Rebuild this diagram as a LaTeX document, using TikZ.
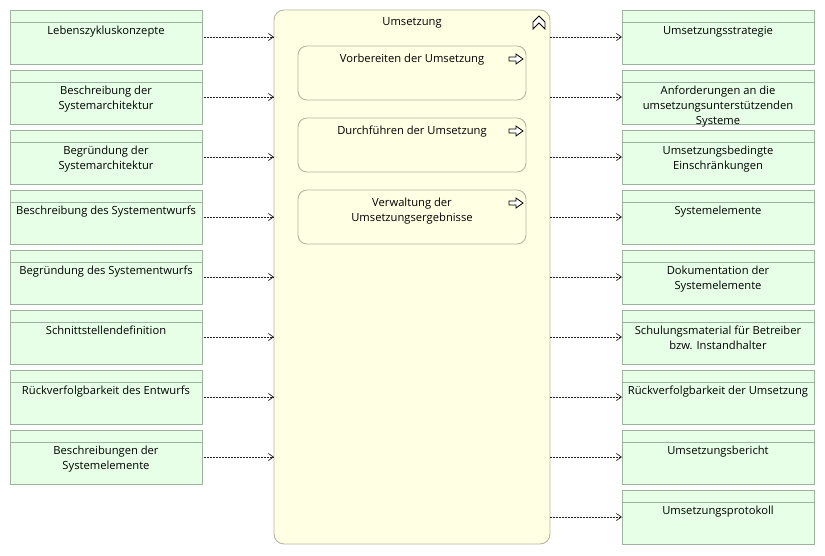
\documentclass[tikz,border=0pt]{standalone}
\usepackage{fontspec}
\setmainfont{Open Sans}
\usetikzlibrary{arrows.meta}

\definecolor{artfill}{HTML}{E6FFE6}
\definecolor{artdraw}{HTML}{9DB39D}
\definecolor{actfill}{HTML}{FFFFE3}
\definecolor{actdraw}{HTML}{B6B6A2}
\definecolor{flowcol}{HTML}{202020}

\tikzset{
  artifact/.style={draw=artdraw, fill=artfill, line width=0.9pt,
    minimum width=192pt, minimum height=54pt, inner sep=0pt, outer sep=0pt,
    anchor=north west},
  arthead/.style={draw=artdraw, line width=0.9pt},
  lbl/.style={font=\fontsize{11.2}{15}\selectfont, align=center, inner sep=0pt,
    anchor=north, text=black},
  container/.style={draw=actdraw, fill=actfill, line width=0.9pt,
    rounded corners=10pt, minimum width=276pt, minimum height=534pt,
    inner sep=0pt, outer sep=0pt, anchor=north west},
  subact/.style={draw=actdraw, fill=actfill, line width=0.9pt,
    rounded corners=9pt, minimum width=228pt, minimum height=54pt,
    inner sep=0pt, outer sep=0pt, anchor=north west},
  flow/.style={draw=flowcol, line width=0.7pt, dash pattern=on 2pt off 1pt,
    -{Straight Barb[length=5pt,width=7pt,line width=0.7pt]}},
  icon/.style={draw=black, line width=0.8pt, line join=miter, fill=white}
}

\begin{document}
\begin{tikzpicture}[x=1pt,y=-1pt]
\useasboundingbox (0,0) rectangle (825,555);

% central activity
\node[container] (U) at (274,10) {};
\node[lbl] (Ut) at (412,17.5) {Umsetzung};
\draw[icon] (533,29) -- (533,22) -- (539,16) -- (545,22) -- (545,29) -- (539,23) -- cycle;

% sub-activities
\foreach \n/\y/\t in {P1/46/{Vorbereiten der Umsetzung},
                      P2/118/{Durchführen der Umsetzung},
                      P3/190/{Verwaltung der\\Umsetzungsergebnisse}}{
  \node[subact] (\n) at (298,\y) {};
  \node[lbl] (\n t) at (412,\y+8) {\t};
  \draw[icon] (509,\y+11) -- (516,\y+11) -- (516,\y+8) -- (523,\y+13)
              -- (516,\y+18) -- (516,\y+15) -- (509,\y+15) -- cycle;
}

% input artefacts
\foreach \n/\y/\t in {
  L1/10/{Lebenszykluskonzepte},
  L2/70/{Beschreibung der\\Systemarchitektur},
  L3/130/{Begründung der\\Systemarchitektur},
  L4/190/{Beschreibung des Systementwurfs},
  L5/250/{Begründung des Systementwurfs},
  L6/310/{Schnittstellendefinition},
  L7/370/{Rückverfolgbarkeit des Entwurfs},
  L8/430/{Beschreibungen der\\Systemelemente}}{
  \node[artifact] (\n) at (10,\y) {};
  \draw[arthead] (10,\y+12) -- (202,\y+12);
  \node[lbl] (\n t) at (106,\y+16) {\t};
  \draw[flow, shorten <=2pt] (\n.east) -- (\n.east -| U.west);
}

% output artefacts
\foreach \n/\y/\t in {
  R1/10/{Umsetzungsstrategie},
  R2/70/{Anforderungen an die\\umsetzungsunterstützenden\\Systeme},
  R3/130/{Umsetzungsbedingte\\Einschränkungen},
  R4/190/{Systemelemente},
  R5/250/{Dokumentation der\\Systemelemente},
  R6/310/{Schulungsmaterial für Betreiber\\bzw. Instandhalter},
  R7/370/{Rückverfolgbarkeit der Umsetzung},
  R8/430/{Umsetzungsbericht},
  R9/490/{Umsetzungsprotokoll}}{
  \node[artifact] (\n) at (622,\y) {};
  \draw[arthead] (622,\y+12) -- (814,\y+12);
  \node[lbl] (\n t) at (718,\y+16) {\t};
  \draw[flow] (\n.west -| U.east) -- (\n.west);
}
\end{tikzpicture}
\end{document}
